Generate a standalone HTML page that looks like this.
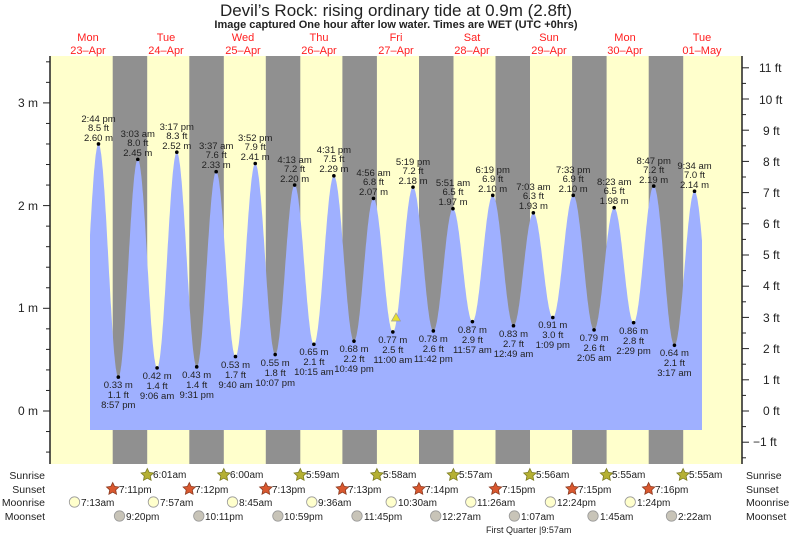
<!DOCTYPE html>
<html><head><meta charset="utf-8">
<style>
html,body{margin:0;padding:0;background:#fff;}
svg{display:block;font-family:"Liberation Sans",sans-serif;}
.l{font-size:9.5px;fill:#222;text-anchor:middle;}
.b{font-size:10px;fill:#222;}
.ax{font-size:12px;fill:#222;}
</style></head><body>
<svg id="s" width="793" height="537" viewBox="0 0 793 537" xmlns="http://www.w3.org/2000/svg">
<rect x="50" y="56" width="692" height="408" fill="#ffffcc"/>
<g fill="#909090">
<rect x="112.7" y="56" width="34.5" height="408"/>
<rect x="189.3" y="56" width="34.5" height="408"/>
<rect x="265.8" y="56" width="34.5" height="408"/>
<rect x="342.4" y="56" width="34.5" height="408"/>
<rect x="419.0" y="56" width="34.5" height="408"/>
<rect x="495.5" y="56" width="34.5" height="408"/>
<rect x="572.1" y="56" width="34.5" height="408"/>
<rect x="648.7" y="56" width="34.5" height="408"/>
</g>
<path id="tide" fill="#9fb0ff" d=""/>
<g id="dots" fill="#000"></g>
<polygon points="396,313 391.5,321 400.5,321" fill="#e8e030" stroke="#999" stroke-width="0.7"/>
<line x1="50" y1="56" x2="50" y2="464" stroke="#222" stroke-width="1.5"/>
<line x1="742" y1="56" x2="742" y2="464" stroke="#222" stroke-width="1.5"/>
<g id="ticks" stroke="#222" stroke-width="1"></g>
<g class="ax" text-anchor="end">
<text x="38" y="107">3 m</text><text x="38" y="210">2 m</text><text x="38" y="312">1 m</text><text x="38" y="415">0 m</text>
</g>
<g class="ax">
<text x="759" y="72">11 ft</text><text x="759" y="104">10 ft</text><text x="763" y="135">9 ft</text><text x="763" y="166">8 ft</text><text x="763" y="197">7 ft</text><text x="763" y="228">6 ft</text><text x="763" y="259">5 ft</text><text x="763" y="290">4 ft</text><text x="763" y="322">3 ft</text><text x="763" y="353">2 ft</text><text x="763" y="384">1 ft</text><text x="763" y="415">0 ft</text><text x="753" y="446">−1 ft</text>
</g>
<text x="396" y="16" text-anchor="middle" font-size="17" fill="#222">Devil’s Rock: rising  ordinary tide at 0.9m (2.8ft)</text>
<text x="396" y="28" text-anchor="middle" font-size="11" font-weight="bold" fill="#222">Image captured One hour after low water. Times are WET (UTC +0hrs)</text>
<g font-size="11" fill="#ff2020" text-anchor="middle">
<text x="88" y="41">Mon</text><text x="88" y="54">23–Apr</text>
<text x="166" y="41">Tue</text><text x="166" y="54">24–Apr</text>
<text x="243" y="41">Wed</text><text x="243" y="54">25–Apr</text>
<text x="319" y="41">Thu</text><text x="319" y="54">26–Apr</text>
<text x="396" y="41">Fri</text><text x="396" y="54">27–Apr</text>
<text x="472" y="41">Sat</text><text x="472" y="54">28–Apr</text>
<text x="549" y="41">Sun</text><text x="549" y="54">29–Apr</text>
<text x="625" y="41">Mon</text><text x="625" y="54">30–Apr</text>
<text x="702" y="41">Tue</text><text x="702" y="54">01–May</text>
</g>
<g class="l">
<text x="98.5" y="122">2:44 pm</text><text x="98.5" y="131">8.5 ft</text><text x="98.5" y="141">2.60 m</text>
<text x="137.8" y="137">3:03 am</text><text x="137.8" y="146">8.0 ft</text><text x="137.8" y="156">2.45 m</text>
<text x="176.8" y="130">3:17 pm</text><text x="176.8" y="139">8.3 ft</text><text x="176.8" y="149">2.52 m</text>
<text x="216.2" y="149">3:37 am</text><text x="216.2" y="158">7.6 ft</text><text x="216.2" y="168">2.33 m</text>
<text x="255.2" y="141">3:52 pm</text><text x="255.2" y="150">7.9 ft</text><text x="255.2" y="160">2.41 m</text>
<text x="294.6" y="163">4:13 am</text><text x="294.6" y="172">7.2 ft</text><text x="294.6" y="182">2.20 m</text>
<text x="333.9" y="153">4:31 pm</text><text x="333.9" y="162">7.5 ft</text><text x="333.9" y="172">2.29 m</text>
<text x="373.5" y="176">4:56 am</text><text x="373.5" y="185">6.8 ft</text><text x="373.5" y="195">2.07 m</text>
<text x="413" y="165">5:19 pm</text><text x="413" y="174">7.2 ft</text><text x="413" y="184">2.18 m</text>
<text x="453" y="186">5:51 am</text><text x="453" y="195">6.5 ft</text><text x="453" y="205">1.97 m</text>
<text x="492.7" y="173">6:19 pm</text><text x="492.7" y="182">6.9 ft</text><text x="492.7" y="192">2.10 m</text>
<text x="533.4" y="190">7:03 am</text><text x="533.4" y="199">6.3 ft</text><text x="533.4" y="209">1.93 m</text>
<text x="573.2" y="173">7:33 pm</text><text x="573.2" y="182">6.9 ft</text><text x="573.2" y="192">2.10 m</text>
<text x="614.2" y="185">8:23 am</text><text x="614.2" y="194">6.5 ft</text><text x="614.2" y="204">1.98 m</text>
<text x="653.7" y="164">8:47 pm</text><text x="653.7" y="173">7.2 ft</text><text x="653.7" y="183">2.19 m</text>
<text x="694.5" y="169">9:34 am</text><text x="694.5" y="178">7.0 ft</text><text x="694.5" y="188">2.14 m</text>

<text x="118.3" y="388">0.33 m</text><text x="118.3" y="398">1.1 ft</text><text x="118.3" y="408">8:57 pm</text>
<text x="157.1" y="379">0.42 m</text><text x="157.1" y="389">1.4 ft</text><text x="157.1" y="399">9:06 am</text>
<text x="196.7" y="378">0.43 m</text><text x="196.7" y="388">1.4 ft</text><text x="196.7" y="398">9:31 pm</text>
<text x="235.5" y="368">0.53 m</text><text x="235.5" y="378">1.7 ft</text><text x="235.5" y="388">9:40 am</text>
<text x="275.2" y="366">0.55 m</text><text x="275.2" y="376">1.8 ft</text><text x="275.2" y="386">10:07 pm</text>
<text x="313.9" y="355">0.65 m</text><text x="313.9" y="365">2.1 ft</text><text x="313.9" y="375">10:15 am</text>
<text x="354" y="352">0.68 m</text><text x="354" y="362">2.2 ft</text><text x="354" y="372">10:49 pm</text>
<text x="392.8" y="343">0.77 m</text><text x="392.8" y="353">2.5 ft</text><text x="392.8" y="363">11:00 am</text>
<text x="433.3" y="342">0.78 m</text><text x="433.3" y="352">2.6 ft</text><text x="433.3" y="362">11:42 pm</text>
<text x="472.4" y="333">0.87 m</text><text x="472.4" y="343">2.9 ft</text><text x="472.4" y="353">11:57 am</text>
<text x="513.5" y="337">0.83 m</text><text x="513.5" y="347">2.7 ft</text><text x="513.5" y="357">12:49 am</text>
<text x="552.8" y="328">0.91 m</text><text x="552.8" y="338">3.0 ft</text><text x="552.8" y="348">1:09 pm</text>
<text x="594.1" y="341">0.79 m</text><text x="594.1" y="351">2.6 ft</text><text x="594.1" y="361">2:05 am</text>
<text x="633.6" y="334">0.86 m</text><text x="633.6" y="344">2.8 ft</text><text x="633.6" y="354">2:29 pm</text>
<text x="674.4" y="356">0.64 m</text><text x="674.4" y="366">2.1 ft</text><text x="674.4" y="376">3:17 am</text>
</g>
<g id="icons"></g>
<g class="b" text-anchor="end" style="font-size:10.5px">
<text x="45" y="479">Sunrise</text><text x="45" y="493">Sunset</text><text x="45" y="506">Moonrise</text><text x="45" y="520">Moonset</text>
</g>
<g class="b" style="font-size:10.5px">
<text x="746" y="479">Sunrise</text><text x="746" y="493">Sunset</text><text x="746" y="506">Moonrise</text><text x="746" y="520">Moonset</text>
</g>
<g class="b">
<text x="153" y="478">6:01am</text><text x="230" y="478">6:00am</text><text x="306" y="478">5:59am</text><text x="383" y="478">5:58am</text><text x="459" y="478">5:57am</text><text x="536" y="478">5:56am</text><text x="612" y="478">5:55am</text><text x="689" y="478">5:55am</text>
<text x="119" y="493">7:11pm</text><text x="195" y="493">7:12pm</text><text x="272" y="493">7:13pm</text><text x="348" y="493">7:13pm</text><text x="425" y="493">7:14pm</text><text x="502" y="493">7:15pm</text><text x="578" y="493">7:15pm</text><text x="655" y="493">7:16pm</text>
<text x="81" y="506">7:13am</text><text x="160" y="506">7:57am</text><text x="239" y="506">8:45am</text><text x="318" y="506">9:36am</text><text x="398" y="506">10:30am</text><text x="477" y="506">11:26am</text><text x="557" y="506">12:24pm</text><text x="637" y="506">1:24pm</text>
<text x="126" y="520">9:20pm</text><text x="205" y="520">10:11pm</text><text x="284" y="520">10:59pm</text><text x="364" y="520">11:45pm</text><text x="442" y="520">12:27am</text><text x="521" y="520">1:07am</text><text x="600" y="520">1:45am</text><text x="678" y="520">2:22am</text>
</g>
<text x="486" y="533" font-size="9" fill="#222">First Quarter |9:57am</text>
</svg>
<script>
(function(){
var NS="http://www.w3.org/2000/svg";
function X(t){return 51.5+3.19*t;}
function Y(m){return 411-102.7*m;}
var E=[[8.5,0.3],[14.73,2.60],[20.95,0.33],[27.05,2.45],[33.1,0.42],[39.28,2.52],[45.52,0.43],[51.62,2.33],[57.67,0.53],[63.87,2.41],[70.12,0.55],[76.22,2.20],[82.25,0.65],[88.52,2.29],[94.82,0.68],[100.93,2.07],[107.0,0.77],[113.32,2.18],[119.7,0.78],[125.85,1.97],[131.95,0.87],[138.32,2.10],[144.82,0.83],[151.05,1.93],[157.15,0.91],[163.55,2.10],[170.08,0.79],[176.38,1.98],[182.48,0.86],[188.78,2.19],[195.28,0.64],[201.57,2.14],[207.8,0.6]];
function h(t){for(var i=0;i<E.length-1;i++){if(t>=E[i][0]&&t<=E[i+1][0]){var f=(t-E[i][0])/(E[i+1][0]-E[i][0]);return E[i][1]+(E[i+1][1]-E[i][1])*(1-Math.cos(Math.PI*f))/2;}}return 0;}
var t0=(90-51.5)/3.19,t1=(702-51.5)/3.19;
var d="M90,430";
for(var t=t0;t<=t1;t+=0.1){d+=" L"+X(t).toFixed(1)+","+Y(h(t)).toFixed(1);}
d+=" L702,"+Y(h(t1)).toFixed(1)+" L702,430 Z";
document.getElementById("tide").setAttribute("d",d);
var g=document.getElementById("dots");
for(var i=1;i<E.length-1;i++){var c=document.createElementNS(NS,"circle");c.setAttribute("cx",X(E[i][0]));c.setAttribute("cy",Y(E[i][1]));c.setAttribute("r",1.8);g.appendChild(c);}
var tk=document.getElementById("ticks");
function ln(a,b,c,e){var l=document.createElementNS(NS,"line");l.setAttribute("x1",a);l.setAttribute("y1",b);l.setAttribute("x2",c);l.setAttribute("y2",e);tk.appendChild(l);}
for(var k=-3;k<=19;k++){var y=Y(k*0.2);if(y<56||y>464)continue;var maj=(k%5===0);ln(maj?43:46,y,50,y);}
for(var k=-3;k<=23;k++){var y=411-31.2*k/2;if(y<56||y>464)continue;var maj=(k%2===0);ln(742,y,maj?749:746,y);}
var ic=document.getElementById("icons");
function star(cx,cy,fill,stroke){var p=[];for(var i=0;i<10;i++){var r=i%2?3.2:6.5,a=-Math.PI/2+i*Math.PI/5;p.push((cx+r*Math.cos(a)).toFixed(1)+","+(cy+r*Math.sin(a)).toFixed(1));}var s=document.createElementNS(NS,"polygon");s.setAttribute("points",p.join(" "));s.setAttribute("fill",fill);s.setAttribute("stroke",stroke);s.setAttribute("stroke-width","0.8");ic.appendChild(s);}
function circ(cx,cy,fill){var c=document.createElementNS(NS,"circle");c.setAttribute("cx",cx);c.setAttribute("cy",cy);c.setAttribute("r",5.2);c.setAttribute("fill",fill);c.setAttribute("stroke","#999");c.setAttribute("stroke-width","0.8");ic.appendChild(c);}
[147.3,223.8,300.3,376.9,453.4,529.9,606.5,683.1].forEach(function(x){star(x,475,"#b5b033","#7a7a20");});
for(var d2=0;d2<8;d2++)star(112.7+76.56*d2,489,"#d9582f","#8a3a20");
[74.5,153.4,232.5,311.8,391.2,470.8,550.4,630.2].forEach(function(x){circ(x,502,"#ffffcc");});
[119.5,198.8,277.9,357,435.7,514.4,593,671.5].forEach(function(x){circ(x,516,"#c8c4b8");});
})();
</script>
</body></html>
